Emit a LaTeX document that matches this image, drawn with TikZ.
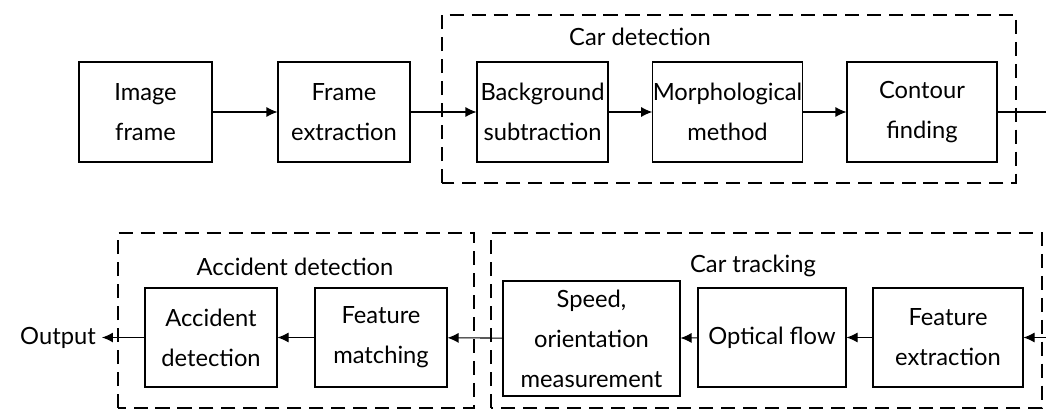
\documentclass[tikz,border=0pt]{standalone}
\usepackage{fontspec}
\setmainfont{Lato}
\usetikzlibrary{arrows.meta}
\tikzset{
  blk/.style={draw, semithick, align=center, font=\fontsize{13.5}{22.7}\selectfont, inner sep=0pt},
  grp/.style={draw, line width=1.6pt, dash pattern=on 8pt off 4.5pt},
  lbl/.style={font=\fontsize{13.5}{22.7}\selectfont}
}
\begin{document}
\begin{tikzpicture}[>={Latex[length=2.2mm,width=2mm]}]
  \useasboundingbox (0,0) rectangle (20.92,8.22);

  % car detection
  \draw[grp] (8.84,4.56) rectangle (20.32,7.92);
  \node[lbl] (lbldet) at (12.8,7.48) {Car detection};

  % accident detection, car tracking
  \draw[grp] (2.36,0.06) rectangle (9.48,3.56);
  \draw[grp] (9.82,0.06) rectangle (20.84,3.56);
  \node[lbl] (lblacc) at (5.9,2.88) {Accident detection};
  \node[lbl] (lbltrk) at (15.06,2.9) {Car tracking};

  \node[blk, minimum width=2.66cm, minimum height=2cm] (imgfr) at (2.91,5.98) {Image\\frame};
  \node[blk, minimum width=2.64cm, minimum height=2cm] (frext) at (6.88,5.98) {Frame\\extraction};
  \node[blk, minimum width=2.62cm, minimum height=2cm] (bgsub) at (10.85,5.98) {Background\\subtraction};
  \node[blk, minimum width=2.9cm, minimum height=2cm] (morph) at (14.55,5.98) {Morphological\\method};
  \node[blk, minimum width=3cm, minimum height=2cm] (contour) at (18.44,5.98) {Contour\\finding};
  \coordinate (outtop) at (20.92,5.98);

  \node[blk, minimum width=2.64cm, minimum height=1.98cm] (accdet) at (4.22,1.47) {Accident\\detection};
  \node[blk, minimum width=2.64cm, minimum height=1.98cm] (featmat) at (7.62,1.47) {Feature\\matching};
  \node[blk, minimum width=3.54cm, minimum height=2.3cm] (speed) at (11.83,1.45) {Speed,\\orientation\\measurement};
  \node[blk, minimum width=2.96cm, minimum height=1.98cm] (optflow) at (15.44,1.47) {Optical flow};
  \node[blk, minimum width=3cm, minimum height=1.98cm] (featext) at (18.96,1.47) {Feature\\extraction};
  \coordinate (inbot) at (20.92,1.47);
  \node[lbl] (outp) at (1.16,1.47) {Output};

  \draw[semithick, ->] (imgfr) -- (frext);
  \draw[semithick, ->] (frext) -- (bgsub);
  \draw[semithick, ->] (bgsub) -- (morph);
  \draw[semithick, ->] (morph) -- (contour);
  \draw[semithick] (contour) -- (outtop);
  \draw[semithick, ->] (inbot) -- (featext);
  \draw[semithick, ->] (featext) -- (optflow);
  \draw[semithick, ->] (optflow) -- (speed);
  \draw[semithick, ->] (speed) -- (featmat);
  \draw[semithick, ->] (featmat) -- (accdet);
  \draw[semithick, ->] (accdet) -- (outp);
\end{tikzpicture}
\end{document}
